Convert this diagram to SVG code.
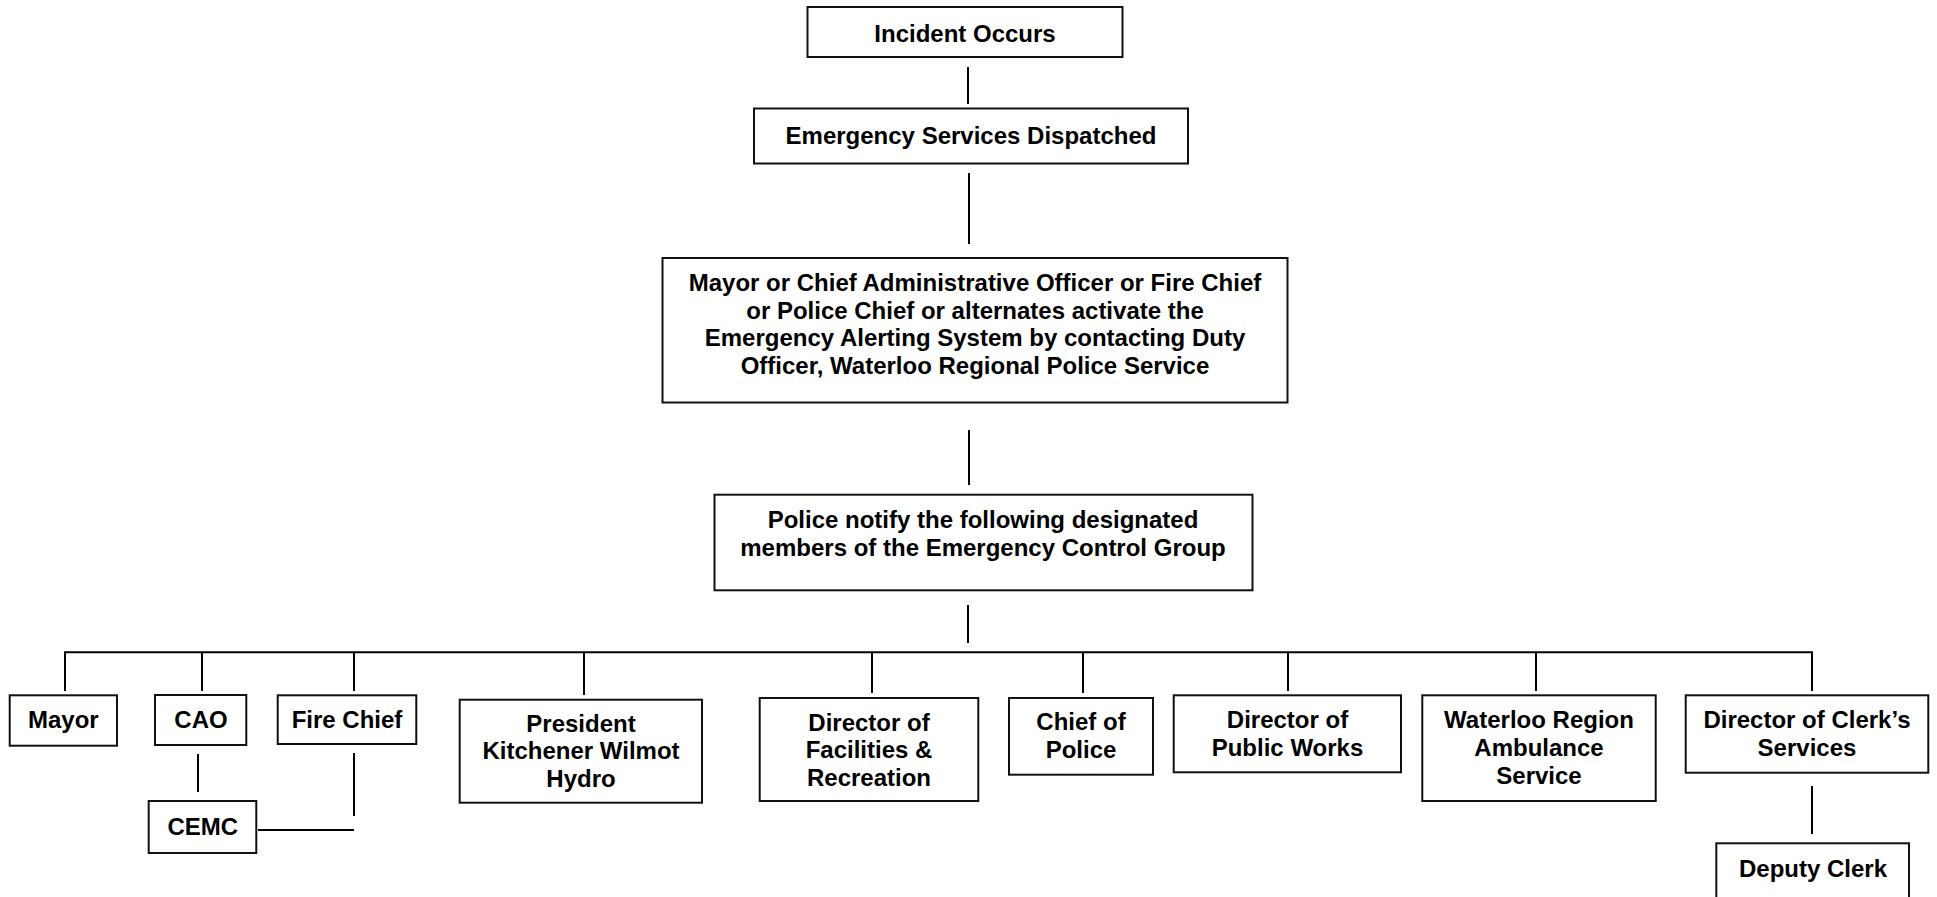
<svg xmlns="http://www.w3.org/2000/svg" width="1937" height="897" viewBox="0 0 1937 897">
<style>
.box{fill:#fff;stroke:#111;stroke-width:2}
.ln{stroke:#000;stroke-width:2;fill:none}
text{font-family:"Liberation Sans",Arial,sans-serif;font-weight:bold;font-size:24px;fill:#000;text-anchor:middle}
</style>
<rect x="0" y="0" width="1937" height="897" fill="#fff"/>
<g id="connectors">
<line class="ln" x1="968" y1="67" x2="968" y2="104"/>
<line class="ln" x1="969" y1="173" x2="969" y2="244"/>
<line class="ln" x1="969" y1="430" x2="969" y2="485"/>
<line class="ln" x1="968" y1="605" x2="968" y2="643"/>
<path class="ln" d="M65 691 V652.3 H1812 V691"/>
<line class="ln" x1="202" y1="652" x2="202" y2="691"/>
<line class="ln" x1="354" y1="652" x2="354" y2="691"/>
<line class="ln" x1="584" y1="652" x2="584" y2="695"/>
<line class="ln" x1="872" y1="652" x2="872" y2="693"/>
<line class="ln" x1="1083" y1="652" x2="1083" y2="693"/>
<line class="ln" x1="1288" y1="652" x2="1288" y2="691"/>
<line class="ln" x1="1536" y1="652" x2="1536" y2="691"/>
<line class="ln" x1="198" y1="754" x2="198" y2="792"/>
<line class="ln" x1="354" y1="753" x2="354" y2="816"/>
<line class="ln" x1="258" y1="830" x2="354" y2="830"/>
<line class="ln" x1="1812" y1="786" x2="1812" y2="834"/>
</g>
<g id="incident">
<rect class="box" x="807.5" y="7" width="315" height="50"/>
<text x="965" y="41.5">Incident Occurs</text>
</g>
<g id="dispatched">
<rect class="box" x="754" y="108.5" width="434" height="55"/>
<text x="971" y="143.5">Emergency Services Dispatched</text>
</g>
<g id="activate">
<rect class="box" x="662.5" y="258" width="625" height="144.5"/>
<text x="975" y="291">Mayor or Chief Administrative Officer or Fire Chief</text>
<text x="975" y="318.7">or Police Chief or alternates activate the</text>
<text x="975" y="346.3">Emergency Alerting System by contacting Duty</text>
<text x="975" y="374">Officer, Waterloo Regional Police Service</text>
</g>
<g id="police-notify">
<rect class="box" x="714.5" y="494.7" width="538" height="95.6"/>
<text x="983" y="528.3">Police notify the following designated</text>
<text x="983" y="556">members of the Emergency Control Group</text>
</g>
<g id="mayor">
<rect class="box" x="9.7" y="695.3" width="107.3" height="50.4"/>
<text x="63.3" y="728.3">Mayor</text>
</g>
<g id="cao">
<rect class="box" x="155" y="695" width="91.3" height="50"/>
<text x="201" y="728.3">CAO</text>
</g>
<g id="fire-chief">
<rect class="box" x="277.7" y="695.3" width="138.6" height="48.7"/>
<text x="347" y="728.3">Fire Chief</text>
</g>
<g id="cemc">
<rect class="box" x="148.7" y="801" width="107.6" height="52"/>
<text x="202.8" y="835">CEMC</text>
</g>
<g id="president">
<rect class="box" x="459.7" y="699.7" width="242.3" height="103"/>
<text x="581" y="732.3">President</text>
<text x="581" y="759.3">Kitchener Wilmot</text>
<text x="581" y="786.7">Hydro</text>
</g>
<g id="facilities">
<rect class="box" x="759.7" y="698" width="218.6" height="103"/>
<text x="869" y="730.7">Director of</text>
<text x="869" y="757.7">Facilities &amp;</text>
<text x="869" y="785.7">Recreation</text>
</g>
<g id="chief-police">
<rect class="box" x="1009" y="698" width="144" height="76.7"/>
<text x="1081" y="730">Chief of</text>
<text x="1081" y="757.7">Police</text>
</g>
<g id="public-works">
<rect class="box" x="1173.7" y="695.3" width="227.3" height="77"/>
<text x="1287.5" y="727.7">Director of</text>
<text x="1287.5" y="756">Public Works</text>
</g>
<g id="ambulance">
<rect class="box" x="1422.3" y="695.3" width="233.4" height="105.7"/>
<text x="1539" y="727.7">Waterloo Region</text>
<text x="1539" y="756">Ambulance</text>
<text x="1539" y="784">Service</text>
</g>
<g id="clerk">
<rect class="box" x="1685.7" y="695.3" width="242.6" height="77.4"/>
<text x="1807" y="727.7">Director of Clerk’s</text>
<text x="1807" y="756">Services</text>
</g>
<g id="deputy-clerk">
<rect class="box" x="1716.3" y="843.3" width="192.7" height="70"/>
<text x="1813" y="877.3">Deputy Clerk</text>
</g>
</svg>
